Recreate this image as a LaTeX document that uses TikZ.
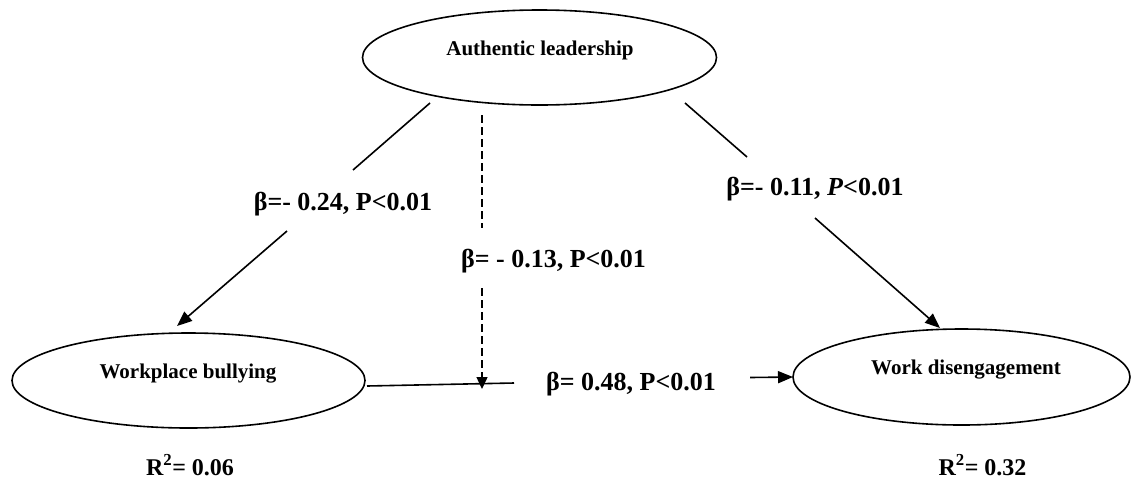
\documentclass[tikz,border=0pt]{standalone}
\usepackage{fontspec}
\setmainfont{Liberation Serif}
\usetikzlibrary{shapes.geometric,arrows.meta}
\tikzset{
  latent/.style={draw, ellipse, line width=1.6pt, inner sep=0pt},
  ntext/.style={font=\bfseries\fontsize{21}{21}\selectfont, anchor=base, inner sep=0pt},
  coef/.style={font=\bfseries\fontsize{26}{26}\selectfont, anchor=base, inner sep=0pt},
  rsq/.style={font=\bfseries\fontsize{24}{24}\selectfont, anchor=base, inner sep=0pt},
  conn/.style={line width=1.6pt},
  connarrow/.style={line width=1.6pt, -{Triangle[length=15pt,width=12pt]}},
  dashconn/.style={line width=1.4pt, dash pattern=on 8pt off 4pt},
  dasharrow/.style={line width=1.4pt, dash pattern=on 8pt off 4pt, -{Triangle[length=12pt,width=11pt]}}
}
\begin{document}
\begin{tikzpicture}[x=1pt,y=-1pt]
\useasboundingbox (0,0) rectangle (1131,488);
% latent variables
\node[latent, minimum width=354pt, minimum height=95pt] (AL) at (539.5,57.5) {};
\node[latent, minimum width=353pt, minimum height=95pt] (WB) at (188.5,380.5) {};
\node[latent, minimum width=337pt, minimum height=96pt] (WD) at (961.5,377) {};
\node[ntext] (ALt) at (540,55) {Authentic leadership};
\node[ntext] (WBt) at (188,378) {Workplace bullying};
\node[ntext] (WDt) at (966,374) {Work disengagement};
% connector end points
\coordinate (a1) at (430,103);
\coordinate (a2) at (353,170);
\coordinate (a3) at (287,231);
\coordinate (a4) at (177,326);
\coordinate (b1) at (685,103);
\coordinate (b2) at (747,157);
\coordinate (b3) at (815,218);
\coordinate (b4) at (940,328);
\coordinate (c1) at (482,115);
\coordinate (c2) at (482,228);
\coordinate (c3) at (482,288);
\coordinate (c4) at (482,389);
\coordinate (d1) at (367,386);
\coordinate (d2) at (514,383);
\coordinate (d3) at (750,377.5);
\coordinate (d4) at (793,377);
% connectors
\draw[conn] (a1) -- (a2);
\draw[connarrow] (a3) -- (a4);
\draw[conn] (b1) -- (b2);
\draw[connarrow] (b3) -- (b4);
\draw[dashconn] (c1) -- (c2);
\draw[dasharrow] (c3) -- (c4);
\draw[conn] (d1) -- (d2);
\draw[connarrow] (d3) -- (d4);
% coefficient labels
\node[coef] (L1) at (343,210) {β=- 0.24, P<0.01};
\node[coef] (L2) at (815,195) {β=- 0.11, \textit{P}<0.01};
\node[coef] (L3) at (553.5,267) {β= - 0.13, P<0.01};
\node[coef] (L4) at (631,390.5) {β= 0.48, P<0.01};
% R squared
\node[rsq] (R1) at (190,475) {R\textsuperscript{2}= 0.06};
\node[rsq] (R2) at (982.5,475) {R\textsuperscript{2}= 0.32};
\end{tikzpicture}
\end{document}
